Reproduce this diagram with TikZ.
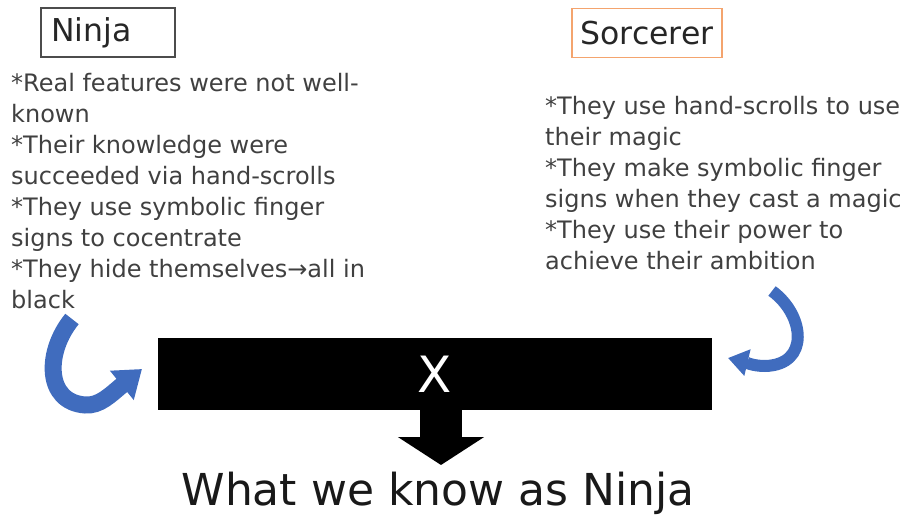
\documentclass[tikz,border=0pt]{standalone}
\usepackage{fontspec}
\setmainfont{DejaVu Sans}
\usetikzlibrary{arrows.meta,calc}
\definecolor{txt}{RGB}{64,64,64}
\definecolor{orng}{RGB}{244,164,110}
\definecolor{arrowblue}{RGB}{64,108,190}
\tikzset{
  titlebox/.style={draw=#1, line width=1.5pt, minimum height=49pt, inner ysep=0pt, font=\fontsize{31.5}{36}\selectfont, text=black!85},
  body/.style={anchor=north west, inner sep=0pt, align=left, text=txt, font=\fontsize{24}{31}\selectfont},
  bluearrow/.style={draw=arrowblue, line width=#1, line cap=butt},
}
\begin{document}
\begin{tikzpicture}[x=1pt,y=-1pt]
\useasboundingbox (0,0) rectangle (903,516);
% titles
\node[titlebox=black!70, inner xsep=10pt, text width=114pt, align=left] (ninja) at (108,32.5) {Ninja};
\node[titlebox=orng, inner xsep=0pt, minimum width=150pt] (sorc) at (647,33) {Sorcerer};
% body texts
\node[body] (ninjatext) at (11,73) {*Real features were not well-\\known\\*Their knowledge were\\succeeded via hand-scrolls\\*They use symbolic finger\\signs to cocentrate\\*They hide themselves→all in\\black};
\node[body] (sorctext) at (545,96) {*They use hand-scrolls to use\\their magic\\*They make symbolic finger\\signs when they cast a magic\\*They use their power to\\achieve their ambition};
% black box
\node[fill=black, minimum width=554pt, minimum height=72pt, inner sep=0pt, text=white, font=\fontsize{50}{60}\selectfont] (xbox) at (435,374) {X};
% result
\node[inner sep=0pt, text=black!90, font=\fontsize{44}{52}\selectfont] (result) at (438,493) {What we know as Ninja};
% down arrow
\draw[line width=42pt, -{Triangle[length=28pt,width=85pt]}] ($(xbox.south)+(6,0)$) -- (441,465);
% curved arrows
\coordinate (ltail) at (72,319);
\coordinate (ltip) at (142,369);
\draw[bluearrow=17pt, -{Triangle[length=26pt,width=36pt]}] (ltail) .. controls (45,352) and (45,402) .. (85,405) .. controls (100,406) and (110,395) .. (ltip);
\coordinate (rtail) at (772,291);
\coordinate (rtip) at (728,358);
\draw[bluearrow=12pt, -{Triangle[length=20pt,width=26pt]}] (rtail) .. controls (805,315) and (810,365) .. (765,366) .. controls (752,366) and (745,362) .. (rtip);
\end{tikzpicture}
\end{document}
